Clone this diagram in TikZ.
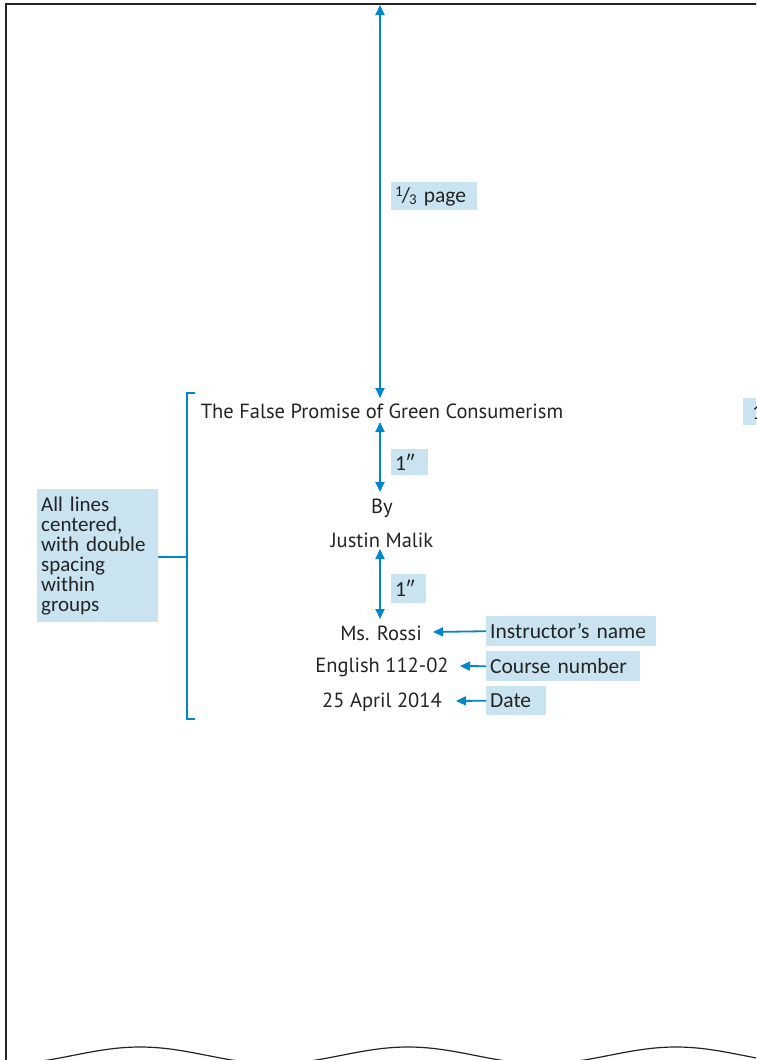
\documentclass[tikz,border=0pt]{standalone}
\usepackage{fontspec}
\setmainfont{Carlito}
\newfontfamily\bodyfont{PT Sans}
\usetikzlibrary{arrows.meta}
\definecolor{guide}{RGB}{0,134,206}
\definecolor{notefill}{RGB}{201,228,240}
\definecolor{pageline}{RGB}{35,35,35}
\definecolor{ink}{RGB}{35,35,35}
\begin{document}
\begin{tikzpicture}[x=1pt,y=-1pt,
  pagetext/.style={font=\bodyfont\fontsize{20.5}{22}\selectfont, text=ink, inner sep=0pt},
  note/.style={fill=notefill, font=\fontsize{21.5}{20}\selectfont, text=ink,
    inner xsep=4pt, inner ysep=0pt, align=left, anchor=north west},
  dim/.style={draw=guide, line width=1.8pt, {Triangle[width=9pt,length=10pt]}-{Triangle[width=9pt,length=10pt]}},
  pointer/.style={draw=guide, line width=1.8pt, -{Triangle[width=9pt,length=10pt]}},
  bracket/.style={draw=guide, line width=1.8pt},
]
\useasboundingbox (0,0) rectangle (756,1060);
\clip (0,0) rectangle (756,1060);

% page outline with torn bottom edge
\draw[pageline, line width=1.5pt] (6,1060) -- (6,4) -- (760,4);
\draw[pageline, line width=1.2pt] plot[domain=6:760, samples=200]
  (\x, {1055.4 - 8.4*cos((\x-140)*1.34328)});

% page lines
\node[pagetext] (title) at (382,411) {The False Promise of Green Consumerism};
\node[pagetext] (by) at (382,508) {By};
\node[pagetext] (author) at (382,540) {Justin Malik};
\node[pagetext] (instr) at (381,633) {Ms. Rossi};
\node[pagetext] (course) at (382,667) {English 112-02};
\node[pagetext] (date) at (382,702) {25 April 2014};

% vertical spacing guides
\coordinate (top) at (380,5);
\coordinate (titleabove) at (380,398);
\coordinate (titlebelow) at (380,422);
\coordinate (byabove) at (380,492);
\coordinate (authorbelow) at (380,549);
\coordinate (instrabove) at (380,619);
\draw[dim] (top) -- (titleabove);
\draw[dim] (titlebelow) -- (byabove);
\draw[dim] (authorbelow) -- (instrabove);

\node[note, text width=78pt, minimum height=28pt] (third) at (391,182)
  {\raisebox{0.55ex}{\fontsize{15}{15}\selectfont 1}\kern-1pt/\kern-1pt\raisebox{-0.25ex}{\fontsize{15}{15}\selectfont 3} page};
\node[note, text width=29pt, minimum height=26pt] (inch1) at (391,449) {1″};
\node[note, text width=27pt, minimum height=29pt] (inch2) at (391,574) {1″};

% notes pointing at the heading lines
\node[note, text width=162pt, minimum height=30pt] (instrnote) at (486,616) {Instructor’s name};
\node[note, text width=146pt, minimum height=30pt] (coursenote) at (486,651) {Course number};
\node[note, text width=52pt, minimum height=29pt] (datenote) at (486,686) {Date};
\coordinate (instrtip) at (433,632);
\coordinate (coursetip) at (460,666);
\coordinate (datetip) at (456,701);
\draw[pointer] (instrnote.west) -- (instrtip);
\draw[pointer] (coursenote.west) -- (coursetip);
\draw[pointer] (datenote.west) -- (datetip);

% bracket around the heading block
\coordinate (brtop) at (195,393);
\coordinate (brbot) at (195,719);
\draw[bracket] (brtop) -- (187,393) -- (187,719) -- (brbot);
\node[note, text width=113pt, minimum height=133pt, inner ysep=0pt,
  font=\fontsize{21}{20}\selectfont] (allnote) at (37,489)
  {All lines\\centered,\\with double\\spacing\\within\\groups};
\coordinate (brmid) at (187,557);
\draw[bracket] (allnote.east |- brmid) -- (brmid);

% margin note running off the right edge
\node[note, minimum height=27pt, inner xsep=9pt] (margin) at (743,398) {1″};
\end{tikzpicture}
\end{document}
